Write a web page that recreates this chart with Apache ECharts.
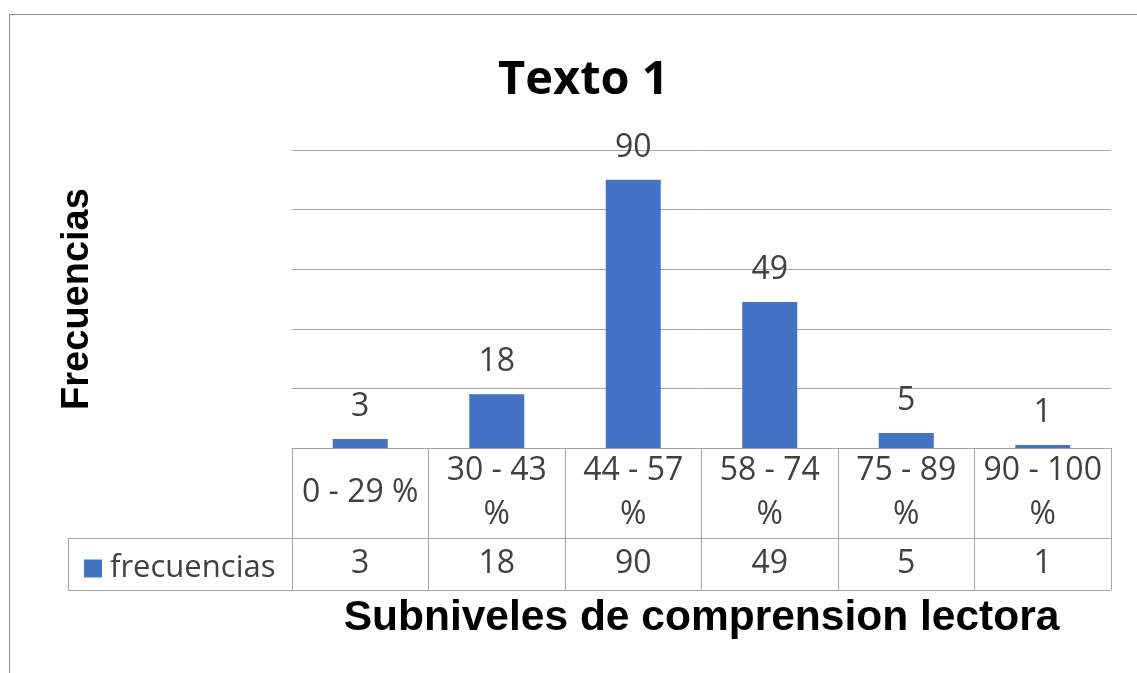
<!DOCTYPE html>
<html>
<head>
<meta charset="utf-8">
<script src="https://cdn.jsdelivr.net/npm/echarts@6/dist/echarts.min.js"></script>
<style>
  html, body { margin: 0; padding: 0; background: #fff; }
  #chart { width: 1137px; height: 673px; }
</style>
</head>
<body>
<div id="chart"></div>
<script>
var categories = ['0 - 29 %', '30 - 43\n%', '44 - 57\n%', '58 - 74\n%', '75 - 89\n%', '90 - 100\n%'];
var frecuencias = [3, 18, 90, 49, 5, 1];
var yTicks = { min: 0, max: 100, interval: 20 };

var lineColor = '#a6a6a6';
var textColor = '#404040';
var bodyFont = 'Open Sans';

var myChart = echarts.init(document.getElementById('chart'));

var option = {
    // titulo
    title: {
        text: 'Texto 1',
        left: 493,
        top: 52,
        textStyle: { fontFamily: bodyFont, fontWeight: 'bold', fontSize: 47, color: '#000' }
    },
    legend: {
        data: ['frecuencias'],
        left: 79,
        top: 548,
        icon: 'rect',
        itemWidth: 18,
        itemHeight: 18,
        itemGap: 10,
        selectedMode: false,
        textStyle: { fontFamily: bodyFont, fontSize: 31, color: textColor, padding: [0, 0, 0, 3] }
    },
    grid: { left: 292, right: 26, top: 150, bottom: 225 },
    yAxis: {
        type: 'value',
        min: yTicks.min,
        max: yTicks.max,
        interval: yTicks.interval,
        name: 'Frecuencias',
        nameLocation: 'middle',
        nameRotate: 90,
        nameGap: 214,
        nameTextStyle: { fontFamily: 'Liberation Sans', fontWeight: 'bold', fontSize: 38, color: '#000', verticalAlign: 'middle' },
        axisLabel: { show: false },
        axisLine: { show: false },
        axisTick: { show: false },
        splitLine: { lineStyle: { color: lineColor, width: 1 } }
    },
    xAxis: [
        {
            // fila de categorias
            type: 'category',
            data: categories,
            position: 'bottom',
            axisLine: { lineStyle: { color: lineColor } },
            axisTick: { show: true, interval: 0, length: 142, lineStyle: { color: lineColor } },
            axisLabel: {
                interval: 0,
                margin: 45,
                verticalAlign: 'middle',
                lineHeight: 44,
                fontFamily: bodyFont,
                fontSize: 32,
                color: textColor
            }
        },
        {
            // fila de valores
            type: 'category',
            data: categories,
            position: 'bottom',
            offset: 90,
            axisLine: { lineStyle: { color: lineColor } },
            axisTick: { show: false },
            axisLabel: {
                interval: 0,
                margin: 26,
                verticalAlign: 'middle',
                fontFamily: bodyFont,
                fontSize: 32,
                color: textColor,
                formatter: function (v, i) { return String(frecuencias[i]); }
            }
        },
        {
            type: 'category',
            data: categories,
            position: 'bottom',
            offset: 142,
            axisLine: { lineStyle: { color: lineColor } },
            axisTick: { show: false },
            axisLabel: { show: false },
            name: 'Subniveles de comprension lectora',
            nameLocation: 'middle',
            nameGap: 28,
            nameTextStyle: { fontFamily: 'Liberation Sans', fontWeight: 'bold', fontSize: 42.5, color: '#000', verticalAlign: 'middle' }
        }
    ],
    series: [
        {
            name: 'frecuencias',
            type: 'bar',
            xAxisIndex: 0,
            data: frecuencias,
            barWidth: 55,
            itemStyle: { color: '#4472c4' },
            label: {
                show: true,
                position: 'top',
                distance: 16,
                fontFamily: bodyFont,
                fontSize: 32,
                color: textColor
            }
        }
    ],
    graphic: [
        // marco exterior
        { type: 'rect', shape: { x: 9.5, y: 14.5, width: 1200, height: 700 }, style: { fill: 'none', stroke: '#8c8c8c', lineWidth: 1 }, silent: true },
        // celda de leyenda
        { type: 'line', shape: { x1: 68, y1: 538.5, x2: 292, y2: 538.5 }, style: { stroke: lineColor, lineWidth: 1 }, silent: true },
        { type: 'line', shape: { x1: 68, y1: 590.5, x2: 292, y2: 590.5 }, style: { stroke: lineColor, lineWidth: 1 }, silent: true },
        { type: 'line', shape: { x1: 68.5, y1: 538, x2: 68.5, y2: 591 }, style: { stroke: lineColor, lineWidth: 1 }, silent: true }
    ]
};

myChart.setOption(option);
window.addEventListener('resize', function () { myChart.resize(); });
</script>
</body>
</html>
